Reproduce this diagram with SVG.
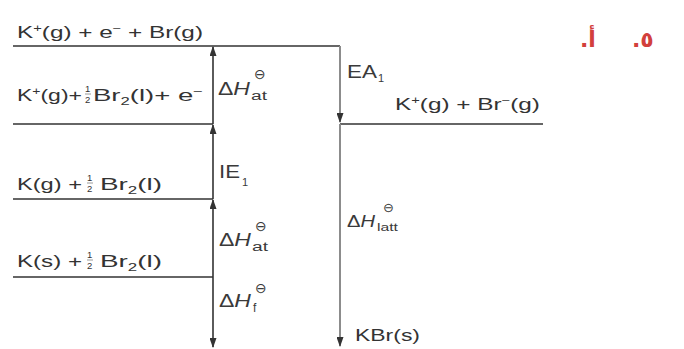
<svg xmlns="http://www.w3.org/2000/svg" width="684" height="349" viewBox="0 0 684 349">
<defs>
<style>
.t{font-family:"Liberation Sans",Arial,sans-serif;fill:#333;font-size:16.5px}
.s{font-size:10px}
.fr{font-family:"Liberation Sans",Arial,sans-serif;fill:#333;font-size:9.5px}
.lv{stroke:#333;stroke-width:1.6;fill:none}
.c{stroke:#333;stroke-width:1.6;fill:none}
.cg{stroke:#8c8c8c;stroke-width:2;fill:none}
.lb{font-family:"Liberation Sans",Arial,sans-serif;fill:#3a3a3a}
.pl{font-family:"DejaVu Sans",sans-serif;fill:#3a3a3a;font-size:14px}
.ar{font-family:"DejaVu Sans",sans-serif;fill:#d2403c;font-size:22px;font-weight:bold}
</style>
<marker id="ah" viewBox="0 0 10 7" refX="9" refY="3.5" markerWidth="10" markerHeight="7" markerUnits="userSpaceOnUse" orient="auto">
<path d="M0,0 L10,3.5 L0,7 z" fill="#333"/>
</marker>
</defs>
<rect width="684" height="349" fill="#fff"/>

<g id="level-top">
<line class="lv" x1="13" y1="46" x2="340" y2="46"/>
<text class="t" x="17" y="38" textLength="186" lengthAdjust="spacingAndGlyphs">K<tspan class="s" dy="-6">+</tspan><tspan dy="6">(g) + e</tspan><tspan class="s" dy="-6">−</tspan><tspan dy="6"> + Br(g)</tspan></text>
</g>

<g id="level-2">
<line class="lv" x1="13" y1="124" x2="213" y2="124"/>
<text class="t" x="17" y="101" textLength="65" lengthAdjust="spacingAndGlyphs">K<tspan class="s" dy="-6">+</tspan><tspan dy="6">(g)+</tspan></text>
<text class="fr" x="85" y="92">1</text>
<line x1="85" y1="94" x2="91" y2="94" stroke="#555" stroke-width="0.6"/>
<text class="fr" x="85" y="103">2</text>
<text class="t" x="93" y="101" textLength="110" lengthAdjust="spacingAndGlyphs">Br<tspan class="s" dy="4">2</tspan><tspan dy="-4">(l)+ e</tspan><tspan class="s" dy="-6">−</tspan></text>
</g>

<g id="level-3">
<line class="lv" x1="13" y1="199" x2="213" y2="199"/>
<text class="t" x="17" y="190" textLength="65" lengthAdjust="spacingAndGlyphs">K(g) +</text>
<text class="fr" x="87" y="181">1</text>
<line x1="87" y1="183" x2="93" y2="183" stroke="#555" stroke-width="0.6"/>
<text class="fr" x="87" y="192">2</text>
<text class="t" x="100" y="190" textLength="62" lengthAdjust="spacingAndGlyphs">Br<tspan class="s" dy="4">2</tspan><tspan dy="-4">(l)</tspan></text>
</g>

<g id="level-4">
<line class="lv" x1="13" y1="277" x2="213" y2="277"/>
<text class="t" x="17" y="267" textLength="65" lengthAdjust="spacingAndGlyphs">K(s) +</text>
<text class="fr" x="87" y="258">1</text>
<line x1="87" y1="260" x2="93" y2="260" stroke="#555" stroke-width="0.6"/>
<text class="fr" x="87" y="269">2</text>
<text class="t" x="100" y="267" textLength="62" lengthAdjust="spacingAndGlyphs">Br<tspan class="s" dy="4">2</tspan><tspan dy="-4">(l)</tspan></text>
</g>

<g id="level-ions">
<line class="lv" x1="340" y1="124" x2="543" y2="124"/>
<text class="t" x="395" y="110" textLength="145" lengthAdjust="spacingAndGlyphs">K<tspan class="s" dy="-6">+</tspan><tspan dy="6">(g) + Br</tspan><tspan class="s" dy="-6">−</tspan><tspan dy="6">(g)</tspan></text>
</g>

<g id="level-kbr">
<text class="t" x="355" y="341" textLength="65" lengthAdjust="spacingAndGlyphs">KBr(s)</text>
</g>

<g id="connectors">
<path class="c" d="M213,124 L213,47" marker-end="url(#ah)"/>
<path class="c" d="M213,199 L213,125" marker-end="url(#ah)"/>
<path class="c" d="M213,277 L213,200" marker-end="url(#ah)"/>
<path class="c" d="M213,277 L213,347" marker-end="url(#ah)"/>
<path class="cg" d="M340,46 L340,122" marker-end="url(#ah)"/>
<path class="cg" d="M340,124 L340,346" marker-end="url(#ah)"/>
</g>

<g id="labels">
<text class="lb" x="218" y="95" style="font-size:18px" textLength="32" lengthAdjust="spacingAndGlyphs">Δ<tspan font-style="italic">H</tspan></text>
<text class="lb" x="251" y="100" style="font-size:12px" textLength="16" lengthAdjust="spacingAndGlyphs">at</text>
<text class="pl" x="254" y="79">⊖</text>

<text class="lb" x="219" y="178" style="font-size:19px" textLength="21" lengthAdjust="spacingAndGlyphs">IE</text>
<text class="lb" x="242" y="186" style="font-size:11px">1</text>

<text class="lb" x="219" y="246" style="font-size:18px" textLength="32" lengthAdjust="spacingAndGlyphs">Δ<tspan font-style="italic">H</tspan></text>
<text class="lb" x="252" y="251" style="font-size:12px" textLength="16" lengthAdjust="spacingAndGlyphs">at</text>
<text class="pl" x="255" y="231">⊖</text>

<text class="lb" x="219" y="307" style="font-size:18px" textLength="32" lengthAdjust="spacingAndGlyphs">Δ<tspan font-style="italic">H</tspan></text>
<text class="lb" x="253" y="312" style="font-size:12px">f</text>
<text class="pl" x="255" y="293">⊖</text>

<text class="lb" x="347" y="78" style="font-size:19px" textLength="30" lengthAdjust="spacingAndGlyphs">EA</text>
<text class="lb" x="378" y="82" style="font-size:11px">1</text>

<text class="lb" x="347" y="227" style="font-size:17px" textLength="28" lengthAdjust="spacingAndGlyphs">Δ<tspan font-style="italic">H</tspan></text>
<text class="lb" x="377" y="231" style="font-size:11px" textLength="21" lengthAdjust="spacingAndGlyphs">latt</text>
<text class="pl" x="383" y="212" style="font-size:13px">⊖</text>

<text class="ar" x="580" y="47">.أ</text>
<text class="ar" x="632" y="47">.٥</text>
</g>
</svg>
